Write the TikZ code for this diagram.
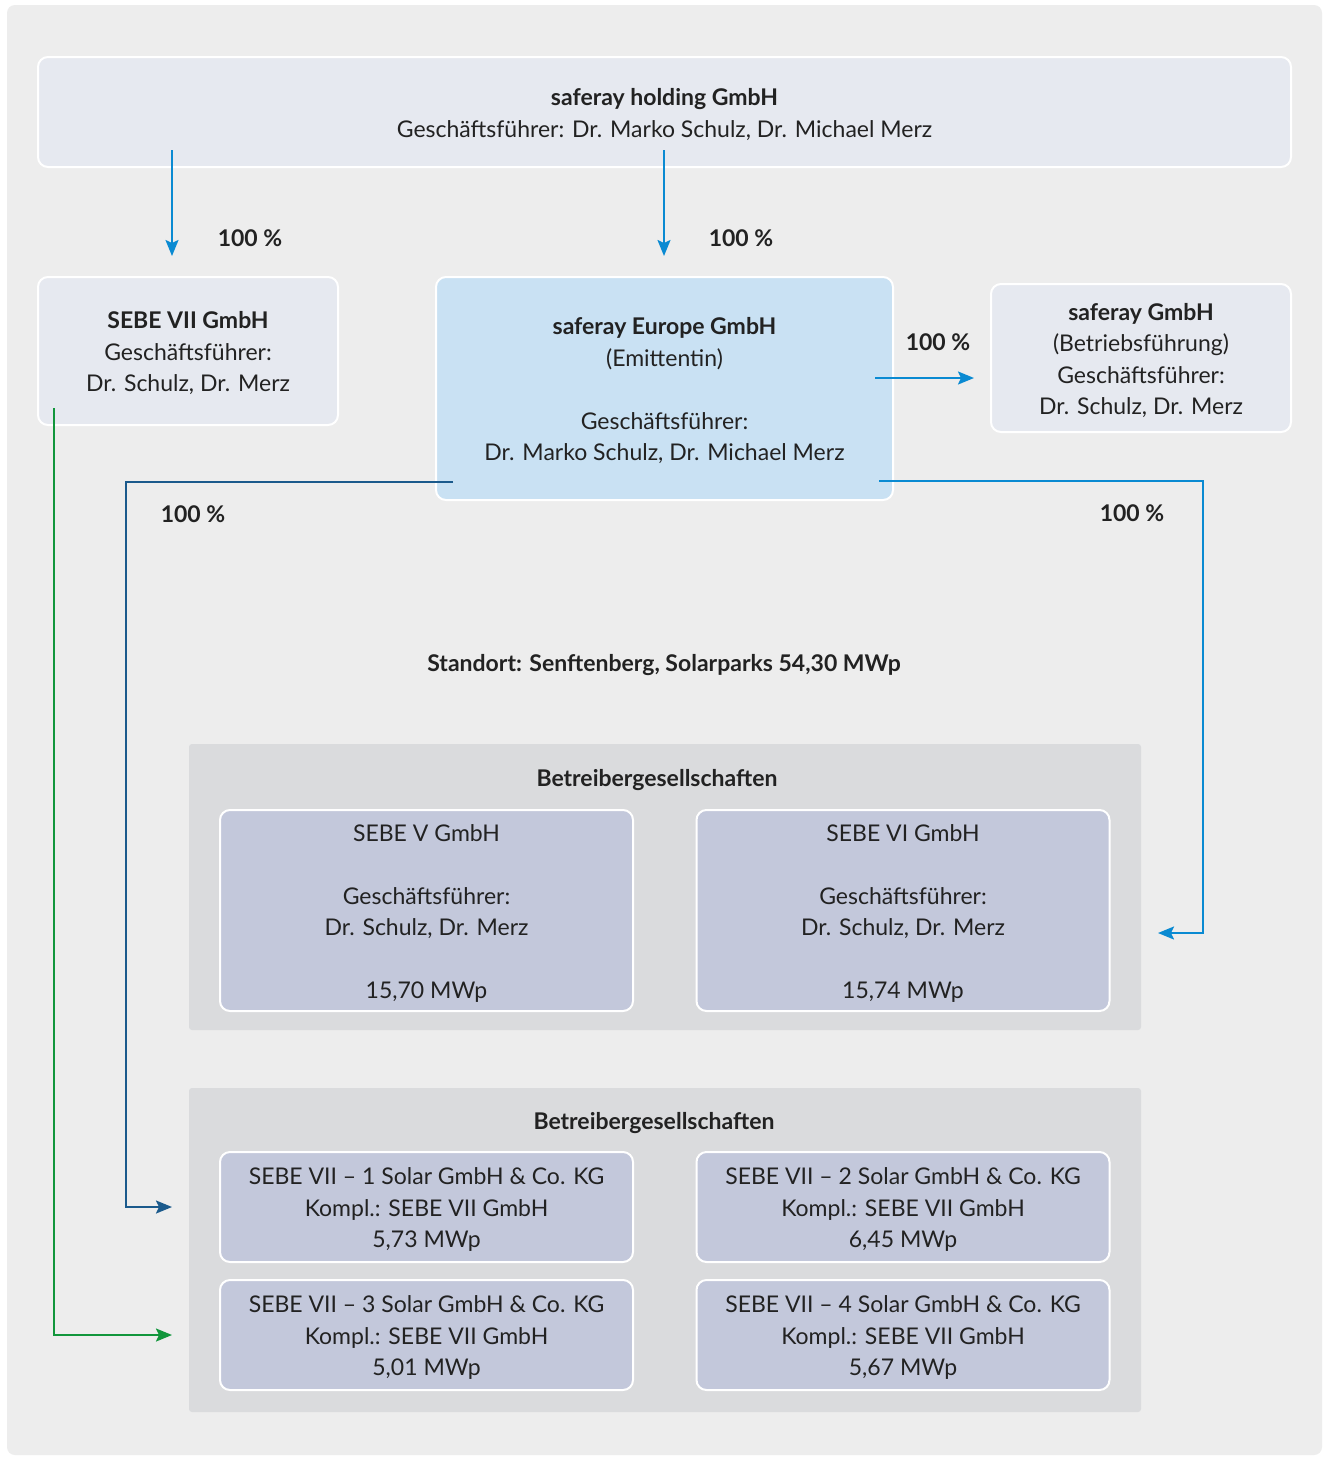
\documentclass[tikz,border=0pt]{standalone}
\usepackage{fontspec}
\setmainfont{Lato}
\usetikzlibrary{arrows.meta}
\definecolor{bgc}{HTML}{EDEDED}
\definecolor{topc}{HTML}{E6E9F0}
\definecolor{euroc}{HTML}{C9E1F3}
\definecolor{groupc}{HTML}{DADBDD}
\definecolor{innerc}{HTML}{C3C8DB}
\definecolor{lblue}{HTML}{0A8AD2}
\definecolor{dblue}{HTML}{1B5A8C}
\definecolor{gline}{HTML}{12963C}
\definecolor{txt}{HTML}{222222}
\newcommand\lowr[1]{\raisebox{-3pt}[\height][\depth]{\begin{tabular}{@{}c@{}}#1\end{tabular}}}
\begin{document}
\begin{tikzpicture}[x=1pt,y=-1pt,
  box/.style={draw=white, line width=2pt, rounded corners=10pt, inner sep=0pt, text=txt, font=\fontsize{23}{31.5}\selectfont},
  grp/.style={fill=groupc, rounded corners=3pt, inner sep=0pt},
  lbl/.style={text=txt, font=\fontsize{23}{28}\selectfont\bfseries, inner sep=0pt},
  arr/.style={line width=2pt, -{Stealth[length=16pt,width=13pt,inset=3pt]}}
]
\useasboundingbox (0,0) rectangle (1324,1457);
\fill[white] (0,0) rectangle (1324,1457);
\fill[bgc, rounded corners=8pt] (7,5) rectangle (1322,1455);

% top
\node[box, fill=topc, minimum width=1253pt, minimum height=110pt] (holding) at (664.5,112)
  {\lowr{\textbf{saferay holding GmbH}\\Geschäftsführer: Dr. Marko Schulz, Dr. Michael Merz}};
\node[box, fill=topc, minimum width=300pt, minimum height=148pt] (sebe7) at (188,351)
  {\lowr{\textbf{SEBE VII GmbH}\\Geschäftsführer:\\Dr. Schulz, Dr. Merz}};
\node[box, fill=euroc, minimum width=457pt, minimum height=223pt] (europe) at (664.5,388.5)
  {\lowr{\textbf{saferay Europe GmbH}\\(Emittentin)\\[31.5pt]Geschäftsführer:\\Dr. Marko Schulz, Dr. Michael Merz}};
\node[box, fill=topc, minimum width=300pt, minimum height=148pt] (saferay) at (1141,358)
  {\lowr{\textbf{saferay GmbH}\\(Betriebsführung)\\Geschäftsführer:\\Dr. Schulz, Dr. Merz}};

\node[lbl] (standort) at (664,665) {Standort: Senftenberg, Solarparks 54,30 MWp};

% group 1
\node[grp, minimum width=952pt, minimum height=286pt] (grp1) at (665,887) {};
\node[lbl] (grp1t) at (657,780) {Betreibergesellschaften};
\node[box, fill=innerc, minimum width=413pt, minimum height=201pt] (sebe5) at (426.5,910.5)
  {\lowr{SEBE V GmbH\\[31.5pt]Geschäftsführer:\\Dr. Schulz, Dr. Merz\\[31.5pt]15,70 MWp}};
\node[box, fill=innerc, minimum width=413pt, minimum height=201pt] (sebe6) at (903,910.5)
  {\lowr{SEBE VI GmbH\\[31.5pt]Geschäftsführer:\\Dr. Schulz, Dr. Merz\\[31.5pt]15,74 MWp}};

% group 2
\node[grp, minimum width=952pt, minimum height=324pt] (grp2) at (665,1250) {};
\node[lbl] (grp2t) at (654,1123) {Betreibergesellschaften};
\node[box, fill=innerc, minimum width=413pt, minimum height=110pt] (k1) at (426.5,1207)
  {\lowr{SEBE VII -- 1 Solar GmbH \& Co. KG\\Kompl.: SEBE VII GmbH\\5,73 MWp}};
\node[box, fill=innerc, minimum width=413pt, minimum height=110pt] (k2) at (903,1207)
  {\lowr{SEBE VII -- 2 Solar GmbH \& Co. KG\\Kompl.: SEBE VII GmbH\\6,45 MWp}};
\node[box, fill=innerc, minimum width=413pt, minimum height=110pt] (k3) at (426.5,1335)
  {\lowr{SEBE VII -- 3 Solar GmbH \& Co. KG\\Kompl.: SEBE VII GmbH\\5,01 MWp}};
\node[box, fill=innerc, minimum width=413pt, minimum height=110pt] (k4) at (903,1335)
  {\lowr{SEBE VII -- 4 Solar GmbH \& Co. KG\\Kompl.: SEBE VII GmbH\\5,67 MWp}};

% connectors
\coordinate (h1s) at (172,150);
\coordinate (h1e) at (172,256);
\coordinate (h2s) at (664,150);
\coordinate (h2e) at (664,256);
\draw[arr, lblue] (h1s) -- (h1e);
\draw[arr, lblue] (h2s) -- (h2e);
\node[lbl] (l1) at (250,238) {100 \%};
\node[lbl] (l2) at (741,238) {100 \%};

\coordinate (es) at (875,378);
\coordinate (ee) at (974,378);
\draw[arr, lblue] (es) -- (ee);
\node[lbl] (l3) at (938,342) {100 \%};

\coordinate (dls) at (453,482);
\coordinate (dle) at (172,1207);
\draw[arr, dblue] (dls) -- (126,482) |- (dle);
\node[lbl] (l4) at (193,514) {100 \%};

\coordinate (lrs) at (879,481);
\coordinate (lre) at (1158,933);
\draw[arr, lblue] (lrs) -- (1203,481) |- (lre);
\node[lbl] (l5) at (1132,513) {100 \%};

\coordinate (gs) at (54,408);
\coordinate (ge) at (172,1335);
\draw[arr, gline] (gs) |- (ge);
\end{tikzpicture}
\end{document}
